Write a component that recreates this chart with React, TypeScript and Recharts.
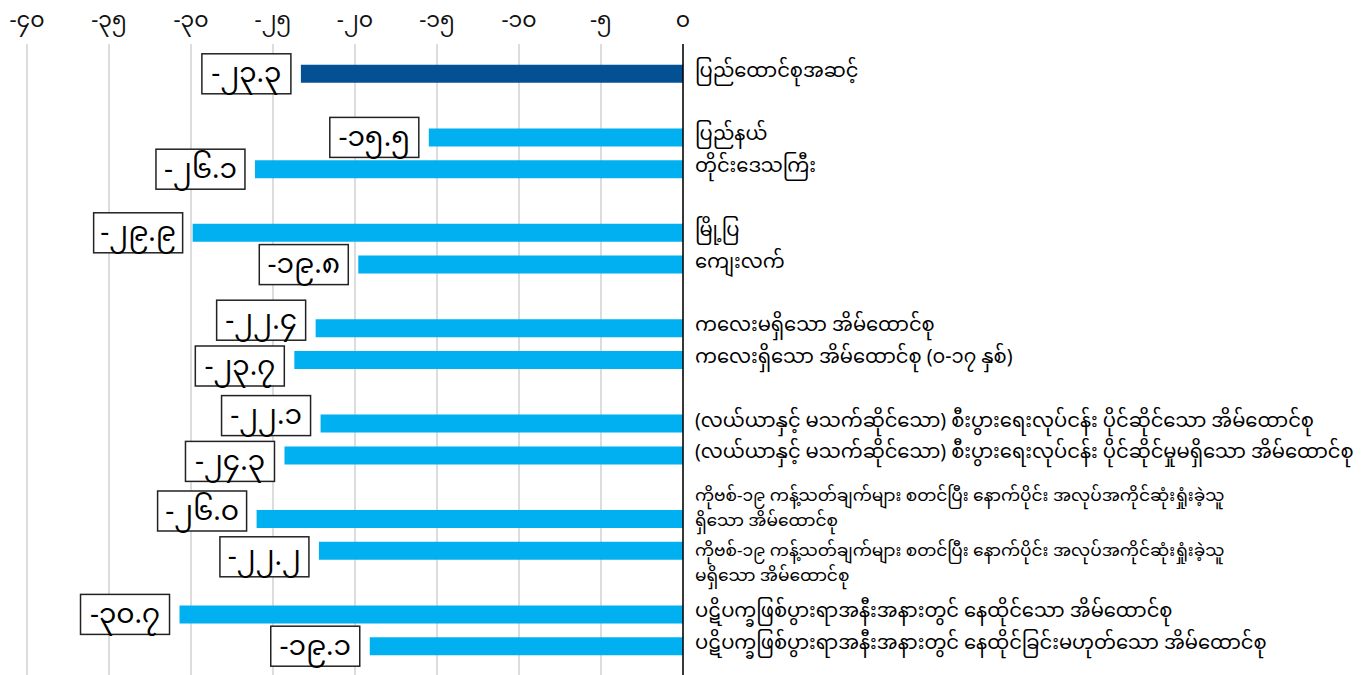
import { Bar, BarChart, CartesianGrid, Cell, LabelList, XAxis, YAxis } from "recharts";

// groups of household categories, top to bottom
const groupLabels: string[][] = [
  ["ပြည်ထောင်စုအဆင့်"],
  ["ပြည်နယ်", "တိုင်းဒေသကြီး"],
  ["မြို့ပြ", "ကျေးလက်"],
  ["ကလေးမရှိသော အိမ်ထောင်စု", "ကလေးရှိသော အိမ်ထောင်စု (၀-၁၇ နှစ်)"],
  [
    "(လယ်ယာနှင့် မသက်ဆိုင်သော) စီးပွားရေးလုပ်ငန်း ပိုင်ဆိုင်သော အိမ်ထောင်စု",
    "(လယ်ယာနှင့် မသက်ဆိုင်သော) စီးပွားရေးလုပ်ငန်း ပိုင်ဆိုင်မှုမရှိသော အိမ်ထောင်စု",
  ],
  [
    "ကိုဗစ်-၁၉ ကန့်သတ်ချက်များ စတင်ပြီး နောက်ပိုင်း အလုပ်အကိုင်ဆုံးရှုံးခဲ့သူ\nရှိသော အိမ်ထောင်စု",
    "ကိုဗစ်-၁၉ ကန့်သတ်ချက်များ စတင်ပြီး နောက်ပိုင်း အလုပ်အကိုင်ဆုံးရှုံးခဲ့သူ\nမရှိသော အိမ်ထောင်စု",
  ],
  [
    "ပဋိပက္ခဖြစ်ပွားရာအနီးအနားတွင် နေထိုင်သော အိမ်ထောင်စု",
    "ပဋိပက္ခဖြစ်ပွားရာအနီးအနားတွင် နေထိုင်ခြင်းမဟုတ်သော အိမ်ထောင်စု",
  ],
];

const groupValues: number[][] = [
  [-23.3],
  [-15.5, -26.1],
  [-29.9, -19.8],
  [-22.4, -23.7],
  [-22.1, -24.3],
  [-26.0, -22.2],
  [-30.7, -19.1],
];

const xTicks = [-40, -35, -30, -25, -20, -15, -10, -5, 0];

const MM_DIGITS = "၀၁၂၃၄၅၆၇၈၉";
const toMyanmar = (s: string) => s.replace(/[0-9]/g, (d) => MM_DIGITS[Number(d)]);

type Row = {
  key: string;
  label: string;
  value: number | null;
  total: boolean;
  pos: number; // 0 = upper bar of a pair, 1 = lower
  partner: number | null;
};

// each group fills two slots, with an empty slot between groups
const rows: Row[] = [];
groupLabels.forEach((labels, g) => {
  if (g > 0) rows.push({ key: `gap-${g}`, label: "", value: null, total: false, pos: 0, partner: null });
  if (labels.length < 2) rows.push({ key: `pad-${g}`, label: "", value: null, total: false, pos: 0, partner: null });
  labels.forEach((label, i) => {
    const vals = groupValues[g];
    rows.push({
      key: `r-${g}-${i}`,
      label,
      value: vals[i],
      total: g === 0,
      pos: labels.length < 2 ? 1 : i,
      partner: vals.length > 1 ? vals[1 - i] : null,
    });
  });
});
const rowByKey = new Map(rows.map((r) => [r.key, r]));

const FONT = "'Noto Sans Myanmar', 'Padauk', 'Myanmar Text', 'Noto Sans', sans-serif";
const BOX_W = 89;
const BOX_H = 40;

function CategoryTick(props: any) {
  const { x, y, payload } = props;
  const row = rowByKey.get(payload?.value);
  if (!row || !row.label) return null;
  const lines = row.label.split("\n");
  const multi = lines.length > 1;
  const size = multi ? 17 : 19.5;
  const lh = 25;
  // two-line labels are pushed apart from their pair partner
  const shift = multi ? (row.pos === 0 ? -9 : 14) : -2;
  const y0 = y + shift - ((lines.length - 1) * lh) / 2;
  return (
    <text x={x + 4} y={y0} fill="#000" fontSize={size} fontFamily={FONT} textAnchor="start" dominantBaseline="central">
      {lines.map((line: string, i: number) => (
        <tspan key={i} x={x + 4} y={y0 + i * lh} dominantBaseline="central">
          {line}
        </tspan>
      ))}
    </text>
  );
}

function ValueBox(props: any) {
  const row = rowByKey.get(props.value);
  if (!row || typeof row.value !== "number") return null;
  const value = row.value;
  const x = Number(props.x);
  const w = Number(props.width);
  const y = Number(props.y);
  const h = Number(props.height);
  const left = Math.min(x, x + w);
  const pxPerUnit = Math.abs(w / value);
  // boxes of a pair that would collide horizontally are moved apart
  let dy = 0;
  if (row.partner !== null && Math.abs(row.partner - value) * pxPerUnit < BOX_W + 4) {
    dy = row.pos === 0 ? -8 : 6;
  }
  const cy = y + h / 2 + dy;
  return (
    <g>
      <rect x={left - 10 - BOX_W} y={cy - BOX_H / 2} width={BOX_W} height={BOX_H} fill="#fff" stroke="#222" strokeWidth={1.5} />
      <text x={left - 10 - BOX_W / 2} y={cy + 2} textAnchor="middle" dominantBaseline="central" fontSize={28} fontFamily={FONT} fill="#000">
        {toMyanmar(value.toFixed(1))}
      </text>
    </g>
  );
}

export default function App() {
  return (
    <div style={{ position: "absolute", left: 0, top: 0, width: 1368, height: 675, background: "#fff", fontFamily: FONT }}>
      <BarChart
        width={1368}
        height={675}
        data={rows}
        layout="vertical"
        margin={{ top: 0, right: 0, bottom: 0, left: 27 }}
      >
        <CartesianGrid horizontal={false} stroke="#d0d0d0" strokeWidth={1.5} />
        <XAxis
          type="number"
          orientation="top"
          domain={[-40, 0]}
          ticks={xTicks}
          height={44}
          axisLine={false}
          tickLine={false}
          tickMargin={11}
          interval={0}
          tick={{ fill: "#111", fontSize: 22, fontFamily: FONT }}
          tickFormatter={(v: number) => toMyanmar(String(v))}
        />
        <YAxis
          type="category"
          dataKey="key"
          orientation="right"
          width={685}
          padding={{ top: -18, bottom: 13 }}
          axisLine={{ stroke: "#000", strokeWidth: 1.5 }}
          tickLine={false}
          interval={0}
          tick={<CategoryTick />}
        />
        <Bar dataKey="value" barSize={18} isAnimationActive={false}>
          {rows.map((r) => (
            <Cell key={r.key} fill={r.total ? "#035192" : "#00b0f0"} />
          ))}
          <LabelList dataKey="key" content={<ValueBox />} />
        </Bar>
      </BarChart>
    </div>
  );
}
